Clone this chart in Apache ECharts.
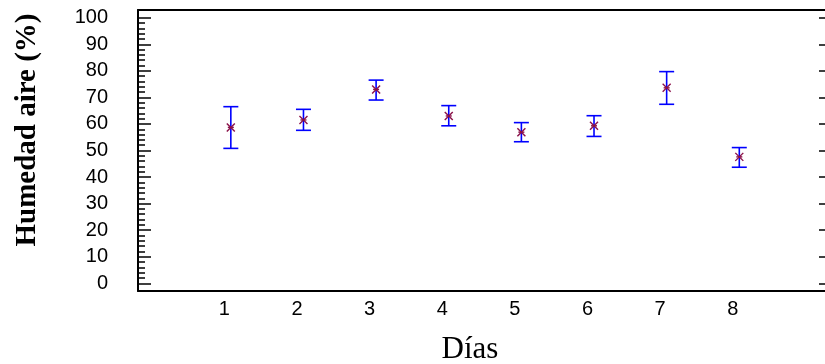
<!DOCTYPE html>
<html>
<head>
<meta charset="utf-8">
<script src="https://cdn.jsdelivr.net/npm/echarts@6/dist/echarts.min.js"></script>
<style>html,body{margin:0;padding:0;background:#fff}#c{width:825px;height:364px}</style>
</head>
<body>
<div id="c"></div>
<script>
var days = [1, 2, 3, 4, 5, 6, 7, 8];
var meanVals = [58.7, 61.5, 73.0, 63.0, 56.9, 59.3, 73.6, 47.6];
var upperVals = [66.5, 65.5, 76.5, 66.9, 60.5, 63.1, 79.7, 51.1];
var lowerVals = [50.8, 57.6, 69.0, 59.3, 53.3, 55.3, 67.4, 43.7];
var yMajorTicks = [0, 10, 20, 30, 40, 50, 60, 70, 80, 90, 100];
var yMinorTicks = [];
for (var t = 0; t <= 100; t += 2) { if (t % 10 !== 0) yMinorTicks.push(t); }

var data = days.map(function (d, i) { return [d, meanVals[i], lowerVals[i], upperVals[i]]; });

var chart = echarts.init(document.getElementById('c'));
var gridBox = { left: 138, top: 10, right: -1, bottom: 73, show: false };
function yAx(extra) {
  return Object.assign({ type: 'value', min: -2.9, max: 102.9, splitLine: { show: false },
    axisLine: { show: false }, axisTick: { show: false }, axisLabel: { show: false } }, extra);
}
function hiddenX(gi, mn, mx) {
  return { type: 'value', gridIndex: gi, min: mn, max: mx, show: false,
    axisLine: { show: false }, axisTick: { show: false }, axisLabel: { show: false }, splitLine: { show: false } };
}
chart.setOption({
  animation: false,
  grid: [gridBox, Object.assign({}, gridBox), Object.assign({}, gridBox), Object.assign({}, gridBox)],
  xAxis: [{
    type: 'value', gridIndex: 0, min: -0.278, max: 9.18, position: 'bottom',
    axisLine: { show: true, onZero: false, lineStyle: { color: '#000', width: 2 } },
    axisTick: { show: false },
    splitLine: { show: false },
    axisLabel: { customValues: days, color: '#000', fontSize: 20, fontFamily: 'Liberation Sans', margin: 8, padding: [0, 13, 0, 0], formatter: function (v) { return String(v); } }
  }, {
    type: 'value', gridIndex: 0, min: -0.278, max: 9.18, position: 'top',
    axisLine: { show: true, onZero: false, lineStyle: { color: '#000', width: 2 } },
    axisTick: { show: false }, axisLabel: { show: false }, splitLine: { show: false }
  },
  hiddenX(1, 0, 1),
  hiddenX(2, -1, 0),
  hiddenX(3, 0, 1)],
  yAxis: [
    yAx({ gridIndex: 0, position: 'left',
      axisLine: { show: true, onZero: false, lineStyle: { color: '#000', width: 2 } },
      axisLabel: { show: true, customValues: yMajorTicks, color: '#000', fontSize: 20, fontFamily: 'Liberation Sans', margin: 30 } }),
    yAx({ gridIndex: 1, position: 'left',
      axisTick: { show: true, inside: true, length: 13, customValues: yMajorTicks, lineStyle: { color: '#000', width: 1.5 } } }),
    yAx({ gridIndex: 3, position: 'left',
      axisTick: { show: true, inside: true, length: 7, customValues: yMinorTicks, lineStyle: { color: '#000', width: 1.5 } } }),
    yAx({ gridIndex: 2, position: 'right',
      axisTick: { show: true, inside: true, length: 6, customValues: yMajorTicks, lineStyle: { color: '#000', width: 1.5 } } })
  ],
  series: [{
    type: 'custom',
    xAxisIndex: 0, yAxisIndex: 0,
    data: data,
    renderItem: function (params, api) {
      var x = api.value(0);
      var c = api.coord([x, api.value(1)]);
      var lo = api.coord([x, api.value(2)]);
      var hi = api.coord([x, api.value(3)]);
      var cap = 7.5, m = 4;
      var blue = { stroke: '#0000ff', lineWidth: 1.6 };
      var red = { stroke: '#8a1048', lineWidth: 1.4 };
      return {
        type: 'group',
        children: [
          { type: 'line', shape: { x1: hi[0], y1: hi[1], x2: lo[0], y2: lo[1] }, style: blue },
          { type: 'line', shape: { x1: hi[0] - cap, y1: hi[1], x2: hi[0] + cap, y2: hi[1] }, style: blue },
          { type: 'line', shape: { x1: lo[0] - cap, y1: lo[1], x2: lo[0] + cap, y2: lo[1] }, style: blue },
          { type: 'line', shape: { x1: c[0] - m, y1: c[1] - m, x2: c[0] + m, y2: c[1] + m }, style: red },
          { type: 'line', shape: { x1: c[0] - m, y1: c[1] + m, x2: c[0] + m, y2: c[1] - m }, style: red },
          { type: 'line', shape: { x1: c[0] - 3, y1: c[1], x2: c[0] + 3, y2: c[1] }, style: red }
        ]
      };
    }
  }],
  graphic: [{
    type: 'text', x: 27.5, y: 130, rotation: Math.PI / 2,
    style: { text: 'Humedad aire (%)', font: 'bold 29px "Liberation Serif"', fill: '#000', align: 'center', verticalAlign: 'middle' }
  }, {
    type: 'text', x: 470, y: 350,
    style: { text: 'Días', font: '31px "Liberation Serif"', fill: '#000', align: 'center', verticalAlign: 'middle' }
  }]
});
</script>
</body>
</html>
